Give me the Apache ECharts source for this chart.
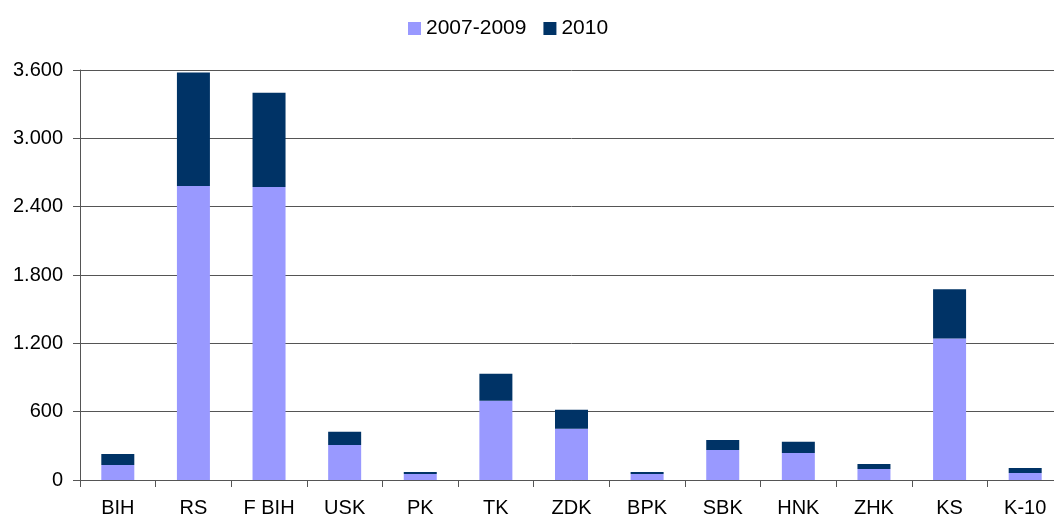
<!DOCTYPE html>
<html>
<head>
<meta charset="utf-8">
<script src="https://cdn.jsdelivr.net/npm/echarts@6/dist/echarts.min.js"></script>
<style>
html, body { margin: 0; padding: 0; background: #fff; overflow: hidden; }
/* desni rub grafa je odrezan u originalu, pa je div malo širi od prozora */
#chart { width: 1063px; height: 521px; }
</style>
</head>
<body>
<div id="chart"></div>
<script>
const categories = ['BIH', 'RS', 'F BIH', 'USK', 'PK', 'TK', 'ZDK', 'BPK', 'SBK', 'HNK', 'ZHK', 'KS', 'K-10'];
// donji dio stupca (2007-2009)
const base0709 = [132, 2581, 2573, 308, 53, 696, 449, 53, 264, 238, 97, 1242, 62];
// ukupno do 2010 - razlika ide u drugi niz
const total2010 = [229, 3577, 3401, 423, 70, 934, 617, 70, 352, 335, 141, 1674, 106];
const add2010 = total2010.map((t, i) => t - base0709[i]);

let dom = document.getElementById('chart');
let myChart = echarts.init(dom, null, {renderer: 'canvas'});

const font = 'Liberation Sans, Arial, sans-serif';

const option = {
    animation: false,
    legend: {
        top: 13,
        left: 403,
        itemWidth: 13,
        itemHeight: 13,
        itemGap: 17,
        icon: 'rect',
        textStyle: {fontFamily: font, fontSize: 21, color: '#000'},
        data: ['2007-2009', '2010']
    },
    grid: {
        left: 80,
        top: 70,
        bottom: 41,
        right: 0
    },
    xAxis: {
        type: 'category',
        data: categories,
        axisLine: {lineStyle: {color: '#555', width: 1}},
        axisTick: {show: true, length: 7, lineStyle: {color: '#555'}},
        axisLabel: {fontFamily: font, fontSize: 20, color: '#000', margin: 18}
    },
    yAxis: {
        type: 'value',
        min: 0,
        max: 3600,
        interval: 600,
        axisLine: {show: true, lineStyle: {color: '#555', width: 1}},
        axisTick: {show: true, length: 7, lineStyle: {color: '#555'}},
        splitLine: {lineStyle: {color: '#555', width: 1}},
        axisLabel: {
            fontFamily: font, fontSize: 20, color: '#000', margin: 17,
            formatter: function (v) {
                return String(v).replace(/\B(?=(\d{3})+(?!\d))/g, '.');
            }
        }
    },
    series: [
        {
            name: '2007-2009',
            type: 'bar',
            stack: 'ukupno',
            barWidth: 33,
            itemStyle: {color: '#9999FF'},
            data: base0709
        },
        {
            name: '2010',
            type: 'bar',
            stack: 'ukupno',
            barWidth: 33,
            itemStyle: {color: '#003366'},
            data: add2010
        }
    ]
};
myChart.setOption(option, true);
</script>
</body>
</html>
